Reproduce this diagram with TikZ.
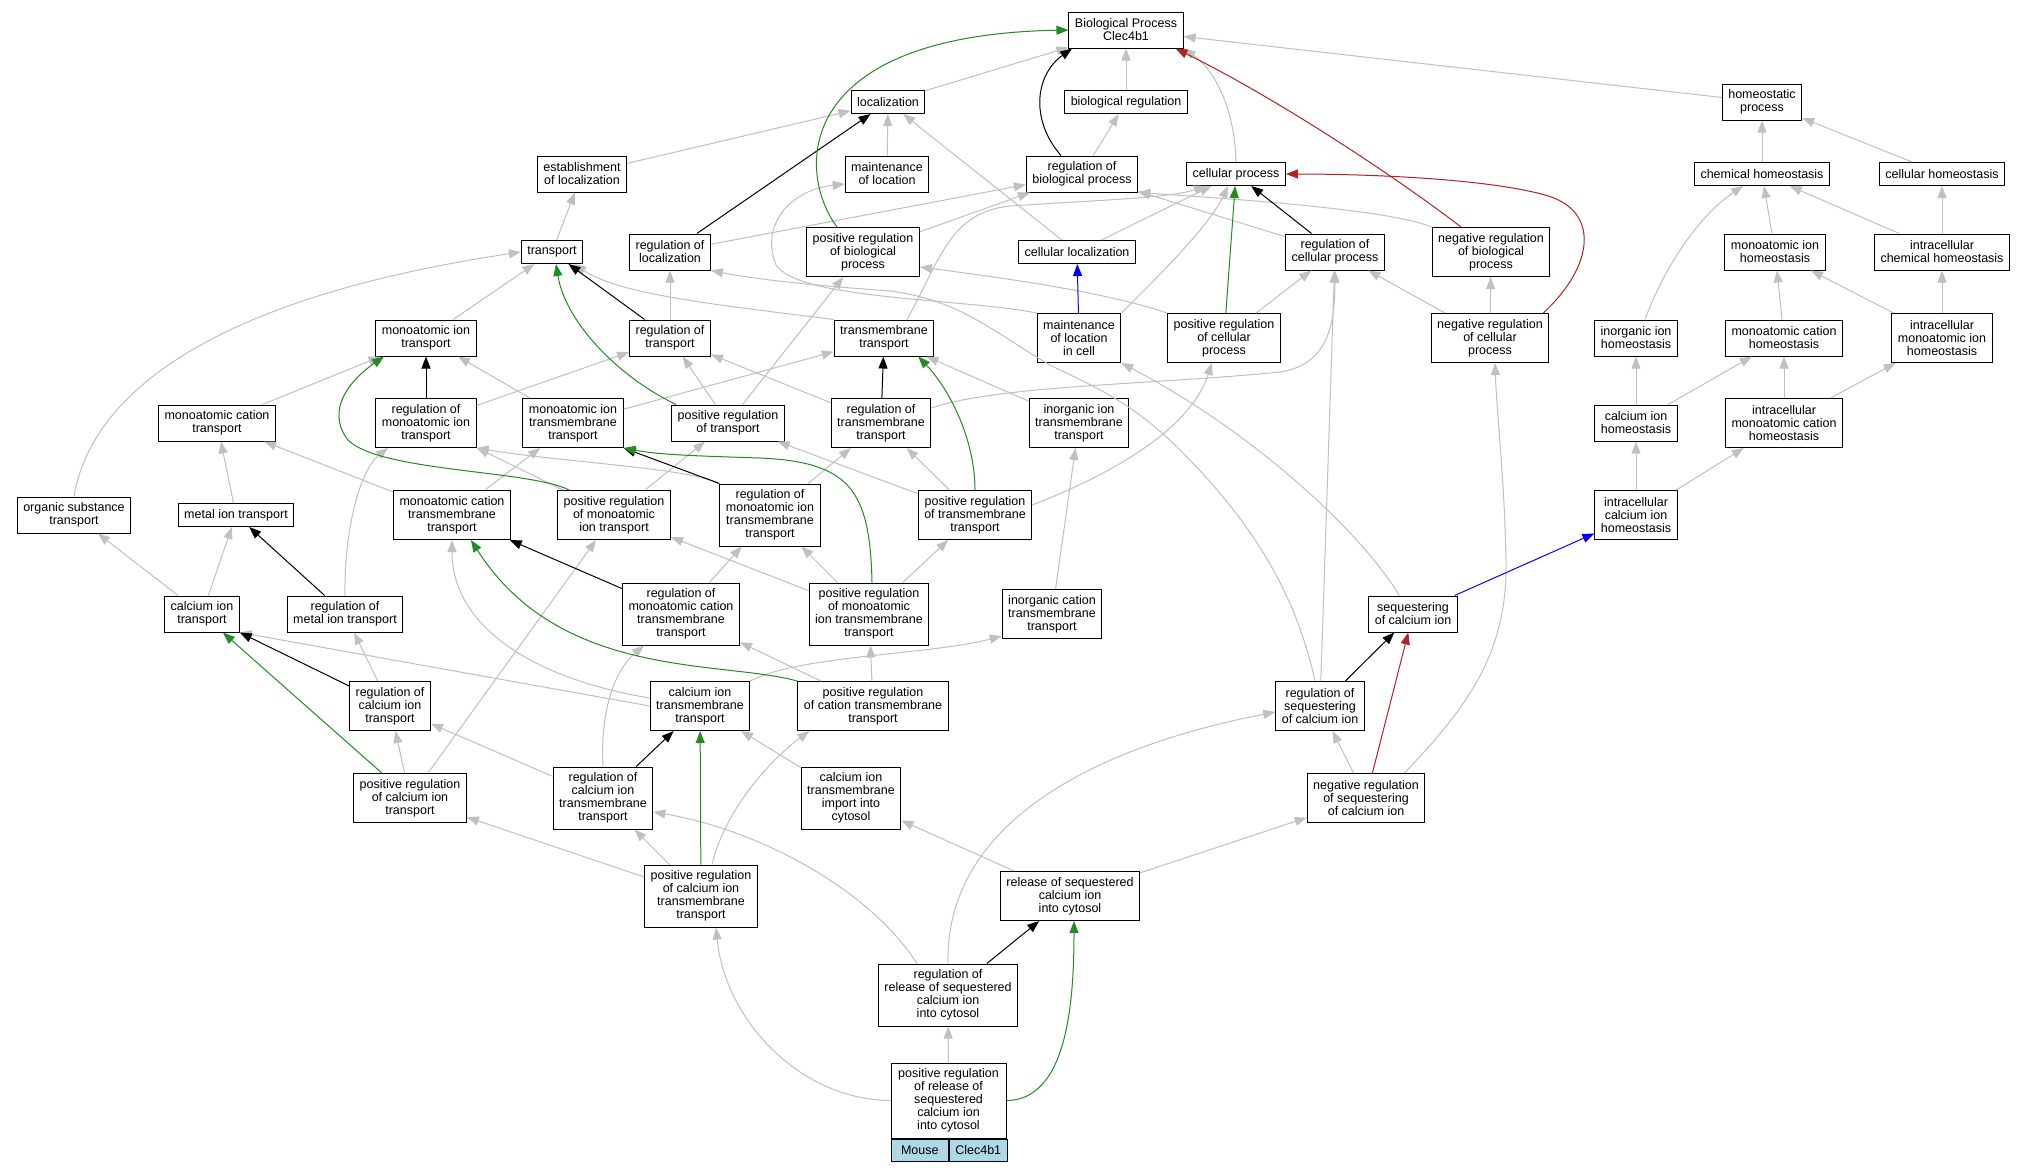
\documentclass[tikz,border=0pt]{standalone}
\usepackage{fontspec}
\setmainfont{Liberation Sans}
\usetikzlibrary{arrows.meta, positioning, calc}
\definecolor{edgeGray}{RGB}{192,192,192}
\definecolor{posGreen}{RGB}{34,139,34}
\definecolor{negRed}{RGB}{178,34,34}
\definecolor{partBlue}{RGB}{0,0,255}
\definecolor{tagBlue}{RGB}{173,216,230}

\tikzset{
    term/.style={draw=black, line width=1pt, fill=white, align=center, inner xsep=6pt, inner ysep=0pt,
        minimum height={(13*#1+10)*1pt}, font=\fontsize{12.5}{13}\selectfont},
    term/.default=1,
    tag/.style={draw=black, line width=1pt, fill=tagBlue, inner sep=0pt, minimum width=57.5pt,
        minimum height=22pt, font=\fontsize{12.5}{13}\selectfont},
    isa/.style={->, edgeGray, line width=1pt},
    reg/.style={->, black, line width=1pt},
    posreg/.style={->, posGreen, line width=1pt},
    negreg/.style={->, negRed, line width=1pt},
    partof/.style={->, partBlue, line width=1pt}
}

\begin{document}
\begin{tikzpicture}[x=1pt, y=-1pt, >={Triangle[length=12pt,width=9pt]}]
    \fill[white] (0,0) rectangle (2028,1171);
    \useasboundingbox (0,0) rectangle (2028,1171);

    % Top rows
    \node[term=2] (BP) at (1126,30) {Biological Process\\Clec4b1};
    \node[term] (loc) at (888,102) {localization};
    \node[term] (bioreg) at (1126,102) {biological regulation};
    \node[term=2] (homeo) at (1762,102) {homeostatic\\process};
    \node[term=2] (estloc) at (582,174) {establishment\\of localization};
    \node[term=2] (mainloc) at (887,174) {maintenance\\of location};
    \node[term=2] (regbio) at (1082,174) {regulation of\\biological process};
    \node[term] (cellproc) at (1236,174) {cellular process};
    \node[term] (chemhom) at (1762,174) {chemical homeostasis};
    \node[term] (cellhom) at (1942,174) {cellular homeostasis};

    \node[term] (transport) at (552,252) {transport};
    \node[term=2] (regloc) at (670,252) {regulation of\\localization};
    \node[term=3] (posregbio) at (863,252) {positive regulation\\of biological\\process};
    \node[term] (cellloc) at (1077,252) {cellular localization};
    \node[term=2] (regcell) at (1335,252) {regulation of\\cellular process};
    \node[term=3] (negregbio) at (1491,252) {negative regulation\\of biological\\process};
    \node[term=2] (monohom) at (1775,252) {monoatomic ion\\homeostasis};
    \node[term=2] (icchem) at (1942,252) {intracellular\\chemical homeostasis};

    \node[term=2] (mit) at (426,338) {monoatomic ion\\transport};
    \node[term=2] (regtrans) at (670,338) {regulation of\\transport};
    \node[term=2] (tmt) at (884,338) {transmembrane\\transport};
    \node[term=3] (mainloccell) at (1079,338) {maintenance\\of location\\in cell};
    \node[term=3] (posregcell) at (1224,338) {positive regulation\\of cellular\\process};
    \node[term=3] (negregcell) at (1490,338) {negative regulation\\of cellular\\process};
    \node[term=2] (inorghom) at (1636,338) {inorganic ion\\homeostasis};
    \node[term=2] (monocathom) at (1784,338) {monoatomic cation\\homeostasis};
    \node[term=3] (icmonohom) at (1942,338) {intracellular\\monoatomic ion\\homeostasis};

    % Middle rows
    \node[term=2] (mct) at (217,423) {monoatomic cation\\transport};
    \node[term=3] (rmit) at (426,423) {regulation of\\monoatomic ion\\transport};
    \node[term=3] (mitt) at (573,423) {monoatomic ion\\transmembrane\\transport};
    \node[term=2] (posregtrans) at (728,423) {positive regulation\\of transport};
    \node[term=3] (rtt) at (881,423) {regulation of\\transmembrane\\transport};
    \node[term=3] (iitt) at (1079,423) {inorganic ion\\transmembrane\\transport};
    \node[term=2] (cahom) at (1636,423) {calcium ion\\homeostasis};
    \node[term=3] (icmch) at (1784,423) {intracellular\\monoatomic cation\\homeostasis};

    \node[term=2] (ost) at (74,515) {organic substance\\transport};
    \node[term] (metal) at (236,515) {metal ion transport};
    \node[term=3] (mctt) at (452,515) {monoatomic cation\\transmembrane\\transport};
    \node[term=3] (prmit) at (614,515) {positive regulation\\of monoatomic\\ion transport};
    \node[term=4] (rmitt) at (770,515) {regulation of\\monoatomic ion\\transmembrane\\transport};
    \node[term=3] (prtt) at (975,515) {positive regulation\\of transmembrane\\transport};
    \node[term=3] (iccahom) at (1636,515) {intracellular\\calcium ion\\homeostasis};

    \node[term=2] (cit) at (202,614) {calcium ion\\transport};
    \node[term=2] (rmet) at (345,614) {regulation of\\metal ion transport};
    \node[term=4] (rmctt) at (681,614) {regulation of\\monoatomic cation\\transmembrane\\transport};
    \node[term=4] (prmitt) at (869,614) {positive regulation\\of monoatomic\\ion transmembrane\\transport};
    \node[term=3] (ictt) at (1052,614) {inorganic cation\\transmembrane\\transport};
    \node[term=2] (seq) at (1413,614) {sequestering\\of calcium ion};

    % Bottom rows
    \node[term=3] (rcit) at (390,706) {regulation of\\calcium ion\\transport};
    \node[term=3] (citt) at (700,706) {calcium ion\\transmembrane\\transport};
    \node[term=3] (prctt) at (873,706) {positive regulation\\of cation transmembrane\\transport};
    \node[term=3] (regseq) at (1320,706) {regulation of\\sequestering\\of calcium ion};

    \node[term=3] (prcit) at (410,798) {positive regulation\\of calcium ion\\transport};
    \node[term=4] (rcitt) at (603,798) {regulation of\\calcium ion\\transmembrane\\transport};
    \node[term=4] (citim) at (851,798) {calcium ion\\transmembrane\\import into\\cytosol};
    \node[term=3] (negregseq) at (1366,798) {negative regulation\\of sequestering\\of calcium ion};

    \node[term=4] (prcitt) at (701,896) {positive regulation\\of calcium ion\\transmembrane\\transport};
    \node[term=3] (rscici) at (1070,896) {release of sequestered\\calcium ion\\into cytosol};
    \node[term=4] (rrsc) at (948,995) {regulation of\\release of sequestered\\calcium ion\\into cytosol};
    \node[term=5, minimum width=115pt] (prrsc) at (948.5,1100.5) {positive regulation\\of release of\\sequestered\\calcium ion\\into cytosol};
    \node[tag, anchor=north west] (mouse) at (prrsc.south west) {Mouse};
    \node[tag, right=0pt of mouse] (gene) {Clec4b1};

    % is_a edges
    \draw[isa] (loc) -- (BP);
    \draw[isa] (bioreg) -- (BP);
    \draw[isa] (homeo) -- (BP);
    \draw[isa] (cellproc.north) .. controls (1235,110) and (1215,70) .. (BP.south east);
    \draw[isa] (estloc) -- (loc);
    \draw[isa] (mainloc) -- (loc);
    \draw[isa] (cellloc) -- (loc);
    \draw[isa] (regbio) -- (bioreg);
    \draw[isa] (regloc) -- (regbio);
    \draw[isa] (posregbio) -- (regbio);
    \draw[isa] (regcell) -- (regbio);
    \draw[isa] (negregbio.north west) .. controls (1390,210) and (1250,200) .. (regbio.south east);
    \draw[isa] (cellloc) -- (cellproc);
    \draw[isa] ([xshift=23pt]tmt.north) .. controls (940,260) and (950,212) .. (1010,206)
        .. controls (1100,200) and (1170,198) .. ([xshift=-30pt]cellproc.south);
    \draw[isa] (mainloccell.north east) .. controls (1155,280) and (1210,225) .. ([xshift=-8pt]cellproc.south);
    \draw[isa] (mainloccell.north west) .. controls (960,298) and (800,300) .. (776,265)
        .. controls (760,225) and (790,190) .. ([yshift=-10pt]mainloc.west);
    \draw[isa] (chemhom) -- (homeo);
    \draw[isa] (cellhom) -- (homeo);
    \draw[isa] (monohom) -- (chemhom);
    \draw[isa] (icchem) -- (chemhom);
    \draw[isa] (icchem) -- (cellhom);
    \draw[isa] ([xshift=9pt]inorghom.north) .. controls (1665,265) and (1700,215) .. ([xshift=-19pt]chemhom.south);
    \draw[isa] (monocathom) -- (monohom);
    \draw[isa] (icmonohom) -- (monohom);
    \draw[isa] (icmonohom) -- (icchem);
    \draw[isa] (cahom) -- (inorghom);
    \draw[isa] (cahom) -- (monocathom);
    \draw[isa] (icmch) -- (monocathom);
    \draw[isa] (icmch) -- (icmonohom);
    \draw[isa] (iccahom) -- (cahom);
    \draw[isa] (iccahom) -- (icmch);
    \draw[isa] (posregcell) -- (regcell);
    \draw[isa] (negregcell) -- (regcell);
    \draw[isa] (negregcell) -- (negregbio);
    \draw[isa] (posregcell.north west) .. controls (1100,290) and (980,275) .. ([yshift=-15pt]posregbio.east);
    \draw[isa] (transport) -- (estloc);
    \draw[isa] (regtrans) -- (regloc);
    \draw[isa] (mit) -- (transport);
    \draw[isa] (ost.north) .. controls (90,400) and (200,300) .. (transport.west);
    \draw[isa] (tmt.north west) .. controls (720,305) and (620,295) .. ([xshift=-9pt]transport.south east);
    \draw[isa] (posregtrans) -- (regtrans);
    \draw[isa] (posregtrans) -- (posregbio);
    \draw[isa] (mitt) -- (mit);
    \draw[isa] (mitt) -- (tmt);
    \draw[isa] (mct) -- (mit);
    \draw[isa] (rmit) -- (regtrans);
    \draw[isa] (rtt) -- (regtrans);
    \draw[isa] ([yshift=15pt]rtt.east) .. controls (1000,385) and (1150,385) .. (1280,372)
        .. controls (1325,365) and (1335,330) .. (regcell.south);
    \draw[isa] (iitt) -- (tmt);
    \draw[isa] (prtt) -- (rtt);
    \draw[isa] (prtt) -- (posregtrans);
    \draw[isa] ([yshift=10pt]prtt.east) .. controls (1110,475) and (1190,430) .. ([xshift=-12pt]posregcell.south);
    \draw[isa] (metal) -- (mct);
    \draw[isa] (mctt) -- (mct);
    \draw[isa] (mctt) -- (mitt);
    \draw[isa] (prmit) -- (rmit);
    \draw[isa] (prmit) -- (posregtrans);
    \draw[isa] (rmitt.north west) .. controls (690,468) and (560,462) .. (rmit.south east);
    \draw[isa] (rmitt) -- (rtt);
    \draw[isa] (prmitt) -- (prmit);
    \draw[isa] (prmitt) -- (rmitt);
    \draw[isa] (prmitt) -- (prtt);
    \draw[isa] (ictt) -- (iitt);
    \draw[isa] (cit) -- (ost);
    \draw[isa] (cit) -- (metal);
    \draw[isa] (rmet.north) .. controls (344,530) and (360,470) .. ([xshift=-38pt]rmit.south);
    \draw[isa] (rmctt) -- (rmitt);
    \draw[isa] (prctt) -- (rmctt);
    \draw[isa] (prctt) -- (prmitt);
    \draw[isa] (rcit) -- (rmet);
    \draw[isa] (citt.west) -- (cit.south east);
    \draw[isa] ([yshift=8pt]citt.west) .. controls (540,680) and (452,630) .. (mctt.south);
    \draw[isa] (citt.north east) .. controls (800,655) and (930,655) .. ([yshift=3pt]ictt.south west);
    \draw[isa] (rcitt) -- (rcit);
    \draw[isa] (rcitt.north) .. controls (600,710) and (615,670) .. ([xshift=22pt]rmctt.south west);
    \draw[isa] (prcit) -- (rcit);
    \draw[isa] (prcit) -- (prmit);
    \draw[isa] (citim) -- (citt);
    \draw[isa] (prcitt) -- (rcitt);
    \draw[isa] (prcitt) -- (prcit);
    \draw[isa] ([xshift=11pt]prcitt.north) .. controls (725,810) and (770,760) .. ([xshift=12pt]prctt.south west);
    \draw[isa] (rscici) -- (citim);
    \draw[isa] (rscici) -- (negregseq);
    \draw[isa] (prrsc) -- (rrsc);
    \draw[isa] (prrsc.west) .. controls (800,1100) and (725,1020) .. ([xshift=15pt]prcitt.south);
    \draw[isa] ([xshift=-31pt]rrsc.north) .. controls (870,890) and (760,830) .. ([yshift=-14pt]rcitt.east);
    \draw[isa] (rrsc.north) .. controls (945,830) and (1080,750) .. ([yshift=-6pt]regseq.west);
    \draw[isa] (regseq) -- (regcell);
    \draw[isa] ([xshift=-5pt]regseq.north) .. controls (1295,590) and (1250,520) .. (1180,450)
        .. controls (1130,400) and (1090,385) .. (1050,365)
        .. controls (990,330) and (960,300) .. (890,291)
        .. controls (810,285) and (760,280) .. (regloc.south east);
    \draw[isa] (negregseq) -- (regseq);
    \draw[isa] ([xshift=-21pt]negregseq.north east) .. controls (1470,705) and (1508,650) .. (1506,560)
        .. controls (1504,470) and (1497,420) .. ([xshift=5pt]negregcell.south);
    \draw[isa] ([xshift=31pt]seq.north west) .. controls (1360,530) and (1250,430) .. (mainloccell.south east);

    % regulates edges
    \draw[reg] ([xshift=-21pt]regbio.north) .. controls (1030,120) and (1035,75) .. ([xshift=-54pt]BP.south);
    \draw[reg] (regloc) -- (loc);
    \draw[reg] (regcell) -- (cellproc);
    \draw[reg] (regtrans) -- (transport);
    \draw[reg] (rmit) -- (mit);
    \draw[reg] (rtt) -- (tmt);
    \draw[reg] (rmet) -- (metal);
    \draw[reg] (rmitt.north west) -- (mitt.south east);
    \draw[reg] (rmctt) -- (mctt);
    \draw[reg] (rcit) -- (cit);
    \draw[reg] (rcitt) -- (citt);
    \draw[reg] (regseq) -- (seq);
    \draw[reg] (rrsc) -- (rscici);

    % positively regulates edges
    \draw[posreg] ([xshift=-26pt]posregbio.north) .. controls (795,170) and (795,35) .. (BP.west);
    \draw[posreg] (posregcell) -- (cellproc);
    \draw[posreg] ([xshift=5pt]posregtrans.north west) .. controls (615,375) and (565,320) .. ([xshift=4pt]transport.south);
    \draw[posreg] ([xshift=12pt]prmit.north west) .. controls (530,470) and (380,472) .. (348,440)
        .. controls (325,410) and (350,380) .. ([xshift=-42pt]mit.south);
    \draw[posreg] (prtt.north) .. controls (975,440) and (950,390) .. ([xshift=-16pt]tmt.south east);
    \draw[posreg] ([xshift=3pt]prmitt.north) .. controls (870,490) and (850,462) .. (760,458)
        .. controls (700,456) and (660,455) .. (mitt.south east);
    \draw[posreg] (prctt.north west) .. controls (720,660) and (560,680) .. ([xshift=-40pt]mctt.south east);
    \draw[posreg] (prcit) -- (cit);
    \draw[posreg] (prcitt) -- (citt);
    \draw[posreg] (prrsc.east) .. controls (1065,1100) and (1074,1010) .. ([xshift=4pt]rscici.south);

    % negatively regulates edges
    \draw[negreg] ([xshift=-30pt]negregbio.north) .. controls (1400,180) and (1280,100) .. ([xshift=-8pt]BP.south east);
    \draw[negreg] ([xshift=-6pt]negregcell.north east) .. controls (1595,265) and (1600,210) .. (1545,195)
        .. controls (1480,177) and (1350,174) .. (cellproc.east);
    \draw[negreg] (negregseq) -- (seq);

    % part_of edges
    \draw[partof] (mainloccell) -- (cellloc);
    \draw[partof] (seq) -- (iccahom);
\end{tikzpicture}
\end{document}
